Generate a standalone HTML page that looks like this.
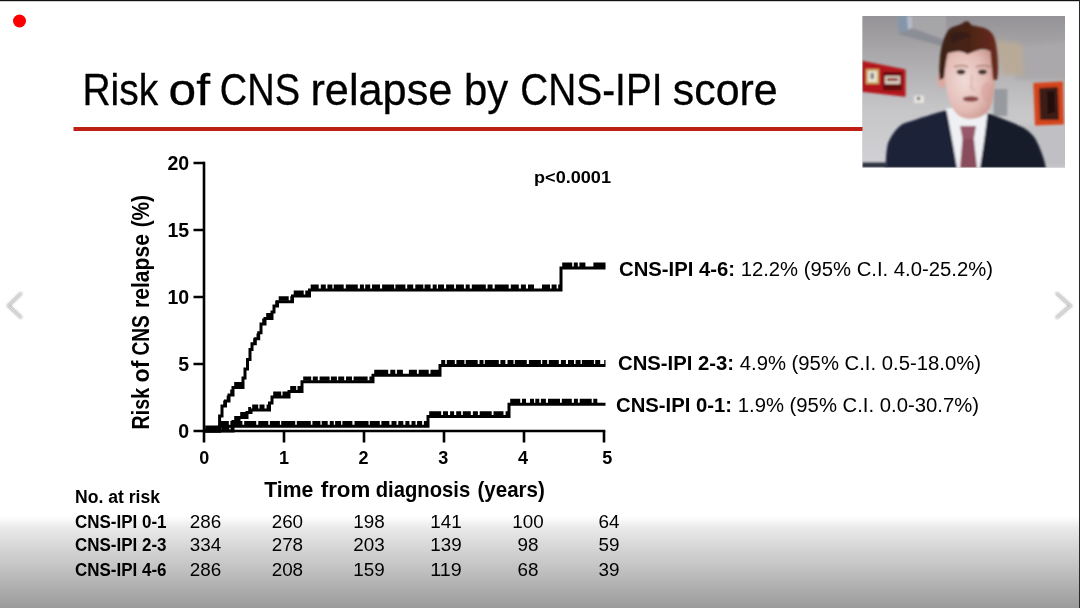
<!DOCTYPE html>
<html><head><meta charset="utf-8"><style>
html,body{margin:0;padding:0;background:#fff;width:1080px;height:608px;overflow:hidden}
svg{display:block;font-family:"Liberation Sans", sans-serif;filter:blur(0.45px)}
</style></head><body>
<svg width="1080" height="608" viewBox="0 0 1080 608">

<defs>
<clipPath id="wc"><rect x="862.5" y="16" width="202.5" height="151.5"/></clipPath>
<filter id="bl" x="-10%" y="-10%" width="120%" height="120%"><feGaussianBlur stdDeviation="1.0"/></filter>
<filter id="bl2" x="-20%" y="-20%" width="140%" height="140%"><feGaussianBlur stdDeviation="2.2"/></filter>
<filter id="bl3" x="-20%" y="-20%" width="140%" height="140%"><feGaussianBlur stdDeviation="0.9"/></filter>
<linearGradient id="wall" x1="0" y1="16" x2="0" y2="167" gradientUnits="userSpaceOnUse"><stop offset="0" stop-color="#959397"/><stop offset="0.3" stop-color="#aeacae"/><stop offset="0.62" stop-color="#c6c6c8"/><stop offset="1" stop-color="#d2d2d6"/></linearGradient>
<radialGradient id="face" cx="0.4" cy="0.45" r="0.6"><stop offset="0" stop-color="#f0dcd8"/><stop offset="0.7" stop-color="#e4bcb6"/><stop offset="1" stop-color="#cf9e96"/></radialGradient>
<linearGradient id="hair" x1="0" y1="0" x2="1" y2="0"><stop offset="0" stop-color="#3a2218"/><stop offset="0.5" stop-color="#4a2418"/><stop offset="1" stop-color="#6a2a1c"/></linearGradient>
<linearGradient id="bot" x1="0" y1="516" x2="0" y2="608" gradientUnits="userSpaceOnUse"><stop offset="0" stop-color="#000" stop-opacity="0"/><stop offset="0.13" stop-color="#000" stop-opacity="0.085"/><stop offset="0.5" stop-color="#000" stop-opacity="0.215"/><stop offset="1" stop-color="#000" stop-opacity="0.395"/></linearGradient>
</defs>
<rect x="862.5" y="16" width="202.5" height="151.5" fill="#c2c0c2"/>
<g clip-path="url(#wc)">
<g filter="url(#bl2)">
<rect x="850" y="5" width="230" height="175" fill="url(#wall)"/>
<polygon points="1020,47 1070,41 1070,80 1015,80" fill="#aaa8aa"/>
<polygon points="996,40 1022,44 1024,76 1002,74" fill="#b9aa98"/>

<polygon points="1005,125 1070,125 1070,167 1040,167" fill="#c0c0c4"/>
</g>
<g filter="url(#bl)">
<polygon points="897,16 946,16 946,45 899,34" fill="#a6a5a8"/>
<polygon points="897,16 909,16 910,31 899,34" fill="#8496a8"/><polygon points="907,16 912,16 912,30 908,31" fill="#b4bcc8"/>
<polygon points="898,34 942,46 950,42 912,28" fill="#8c8e96"/>
<polygon points="862,60.7 905.5,69.4 905.5,96.7 862,91.8" fill="#b3181b"/>
<rect x="866" y="69" width="13" height="15" fill="#c9a464"/>
<rect x="868" y="71" width="9" height="11" fill="#ece6d2"/>
<rect x="870.5" y="73" width="3.5" height="6" fill="#7a7e8a"/>
<rect x="883" y="72" width="19" height="18.5" fill="#661010"/>
<rect x="885" y="76" width="15" height="8" fill="#dccfbf"/>
<rect x="887" y="78" width="11" height="3" fill="#8a3a38"/>
<rect x="914" y="95.5" width="10" height="7.5" fill="#e6e4e0"/>
<rect x="917" y="97" width="3" height="3" fill="#555"/>
<rect x="993.7" y="89" width="13.6" height="27" fill="#979a9e"/>
<polygon points="1033.4,83 1063,81.5 1064,124.5 1035,125.5" fill="#d5441e"/>
<polygon points="1039,88 1058,87 1059,120 1040,120" fill="#3a1a14"/>
<polygon points="1047,92 1054,91 1055,112 1048,114" fill="#24100c"/>
<rect x="862" y="162.6" width="25" height="5" fill="#2a2d3c"/>
</g>
<g filter="url(#bl3)">
<polygon points="946.5,108 989,109 993,168 944,168" fill="#eff0f4"/>
<ellipse cx="941.5" cy="80" rx="4.5" ry="8.5" fill="#d9aaa2"/>
<path d="M944,50 C944,80 946,104 958,115 C966,121 978,120 987,113 C995,103 996,78 995,50 Z" fill="url(#face)"/>
<path d="M939.5,80 C939,65 940,50 943,42 C945,35 948,30 950,28.4 C956,25 962,25 964,22 C967,20 970,22 971,25 C976,26 980,27 983,27.5 C988,29 992,32 994,37 C996,42 997,50 997.5,56 C998,65 998.5,72 997,80 L993,80 C992,70 991,60 990.4,51.5 C986,49 982,49 979.7,49.7 C975,51 971,53 967.3,54.2 C963,52 960,51 956.6,51.5 C952,52 949,53 947.8,53.3 C946,60 945,70 944,78 Z" fill="url(#hair)"/>
<path d="M950,34 C958,30 966,31 972,36 C966,38 958,40 952,44 Z" fill="#2e1a12" opacity="0.6"/>
<ellipse cx="961" cy="72" rx="4.3" ry="2.4" fill="#3a2a2a"/>
<ellipse cx="982.5" cy="72" rx="4.3" ry="2.4" fill="#3a2a2a"/>
<path d="M954,67 Q961,64 968,67" stroke="#a2746a" stroke-width="1.4" fill="none"/>
<path d="M976,67 Q983,64 990,67" stroke="#a2746a" stroke-width="1.4" fill="none"/>
<path d="M972,75 L971,88 L975,90" stroke="#d4a49c" stroke-width="1.6" fill="none" opacity="0.7"/>
<ellipse cx="970.7" cy="99" rx="8" ry="2.8" fill="#8a4646"/>
<ellipse cx="987" cy="92" rx="6" ry="10" fill="#d49e96" opacity="0.5"/>
<path d="M885.6,168 C886,155 886.5,150 888,143 C893,132 899,125.3 905,123 C920,118 935,113 946.5,110.4 C950,128 954,150 957,168 Z" fill="#1b2038"/>
<path d="M987.5,113 C1000,118 1012,122 1023.5,127.8 C1030,132 1034,136 1036,140 C1040,148 1044,158 1046,168 L980,168 C983,150 986,128 987.5,113 Z" fill="#161a2a"/>
<polygon points="962.6,138 973.8,138 977,168 960,168" fill="#8a4c5c"/>
<polygon points="960,126 976,126 973.8,139 962.6,139" fill="#96586a"/>
</g>
</g>

<rect x="0" y="0" width="1080" height="608" fill="#fff" opacity="0"/>
<circle cx="19.5" cy="21" r="6.5" fill="#fa0000"/>
<text x="82.45" y="105.4" font-size="45" font-weight="400" textLength="75.85" lengthAdjust="spacingAndGlyphs" stroke="#000" stroke-width="0.3">Risk</text><text x="168.59" y="105.4" font-size="45" font-weight="400" textLength="41.44" lengthAdjust="spacingAndGlyphs" stroke="#000" stroke-width="0.3">of</text><text x="219.80" y="105.4" font-size="45" font-weight="400" textLength="80.20" lengthAdjust="spacingAndGlyphs" stroke="#000" stroke-width="0.3">CNS</text><text x="310.41" y="105.4" font-size="45" font-weight="400" textLength="142.00" lengthAdjust="spacingAndGlyphs" stroke="#000" stroke-width="0.3">relapse</text><text x="463.91" y="105.4" font-size="45" font-weight="400" textLength="44.15" lengthAdjust="spacingAndGlyphs" stroke="#000" stroke-width="0.3">by</text><text x="520.26" y="105.4" font-size="45" font-weight="400" textLength="142.32" lengthAdjust="spacingAndGlyphs" stroke="#000" stroke-width="0.3">CNS-IPI</text><text x="672.81" y="105.4" font-size="45" font-weight="400" textLength="104.94" lengthAdjust="spacingAndGlyphs" stroke="#000" stroke-width="0.3">score</text>
<rect x="73.5" y="127" width="789" height="4" fill="#bd2115"/>
<path d="M204,161.7V431H605.3" fill="none" stroke="#000" stroke-width="2.6"/><path d="M193.5,163H204M193.5,230H204M193.5,297H204M193.5,364H204M193.5,431H204M204,431V442.5M284,431V442.5M364,431V442.5M444,431V442.5M524,431V442.5M604,431V442.5" fill="none" stroke="#000" stroke-width="2.6"/>
<path d="M204.0,431.0H219.6V416.0H222.0V406.0H225.5V401.0H229.0V395.0H233.0V387.4H243.0V378.0H245.0V369.0H247.5V359.5H250.0V349.6H252.0V343.7H255.3V338.8H258.7V332.8H261.0V324.0H265.0V318.5H272.0V312.0H274.0V306.0H277.5V301.7H292.5V296.0H309.5V290.0H561.0V268.0H605.5" fill="none" stroke="#000" stroke-width="3.0" stroke-linejoin="miter"/><path d="M204.0,431.0H233.0V421.5H239.0V417.5H247.0V412.5H251.0V410.0H269.5V403.0H272.0V397.0H289.0V391.5H302.0V381.8H373.0V375.2H440.0V365.5H605.5" fill="none" stroke="#000" stroke-width="3.0" stroke-linejoin="miter"/><path d="M204.0,431.0H219.6V426.3H428.0V416.6H509.0V404.2H605.5" fill="none" stroke="#000" stroke-width="3.0" stroke-linejoin="miter"/><path d="M205.2,427.8H211.2M212.8,427.8H216.8M218.1,427.8H219.6M223.2,402.8H225.5M226.7,397.8H229.0M230.2,391.8H233.0M234.2,384.2H243.0M253.2,340.5H255.3M256.5,335.6H258.7M262.2,320.8H265.0M266.2,315.3H271.2M275.2,302.8H277.5M278.7,298.5H288.7M290.3,298.5H292.5M293.7,292.8H303.7M305.3,292.8H309.5M310.7,286.8H318.7M320.8,286.8H325.8M327.4,286.8H332.4M333.7,286.8H343.7M345.8,286.8H357.8M359.9,286.8H363.9M365.2,286.8H370.2M372.0,286.8H380.0M382.1,286.8H394.1M395.4,286.8H405.4M407.2,286.8H413.2M415.3,286.8H423.3M424.6,286.8H430.6M432.7,286.8H436.7M438.0,286.8H444.0M446.1,286.8H454.1M455.9,286.8H463.9M465.7,286.8H469.7M471.8,286.8H485.8M487.6,286.8H492.6M494.7,286.8H508.7M510.8,286.8H518.8M520.9,286.8H525.9M528.0,286.8H534.0M542.0,286.8H550.0M551.6,286.8H556.6M558.2,286.8H561.0M562.2,264.8H572.2M573.8,264.8H577.8M579.4,264.8H585.4M593.4,264.8H605.5M205.2,427.8H219.2M221.3,427.8H229.3M230.6,427.8H233.0M234.2,418.3H239.0M240.2,414.3H246.2M248.2,409.3H251.0M252.2,406.8H258.2M259.5,406.8H264.5M266.6,406.8H269.5M273.2,393.8H281.2M282.5,393.8H289.0M290.2,388.3H296.2M297.5,388.3H302.0M303.2,378.6H311.2M312.8,378.6H317.8M319.6,378.6H329.6M330.9,378.6H336.9M338.2,378.6H344.2M346.0,378.6H352.0M353.6,378.6H367.6M369.4,378.6H373.0M374.2,372.0H388.2M390.3,372.0H395.3M396.9,372.0H402.9M408.9,372.0H416.9M418.7,372.0H428.7M430.5,372.0H440.0M441.2,362.3H445.2M446.8,362.3H454.8M456.4,362.3H464.4M465.7,362.3H477.7M479.5,362.3H483.5M484.8,362.3H498.8M500.4,362.3H505.4M507.5,362.3H513.5M514.8,362.3H526.8M528.9,362.3H540.9M542.2,362.3H547.2M548.8,362.3H558.8M560.9,362.3H565.9M568.0,362.3H574.0M575.6,362.3H580.6M581.9,362.3H593.9M595.2,362.3H600.2M604.2,362.3H605.5M205.2,427.8H210.2M212.0,427.8H219.6M220.8,423.1H228.8M230.4,423.1H242.4M244.2,423.1H256.2M258.3,423.1H268.3M269.9,423.1H279.9M281.2,423.1H295.2M296.8,423.1H310.8M312.4,423.1H320.4M321.7,423.1H327.7M329.8,423.1H333.8M335.1,423.1H341.1M342.4,423.1H352.4M354.5,423.1H368.5M369.8,423.1H379.8M381.4,423.1H389.4M391.5,423.1H396.5M398.3,423.1H403.3M405.4,423.1H409.4M411.5,423.1H415.5M417.1,423.1H422.1M423.9,423.1H428.0M429.2,413.4H441.2M443.0,413.4H448.0M450.1,413.4H454.1M456.2,413.4H461.2M462.8,413.4H470.8M472.9,413.4H477.9M479.7,413.4H491.7M493.5,413.4H503.5M505.6,413.4H509.0M510.2,401.0H520.2M522.0,401.0H526.0M530.0,401.0H534.0M535.3,401.0H539.3M540.9,401.0H545.9M548.0,401.0H560.0M561.8,401.0H571.8M573.9,401.0H577.9M579.7,401.0H591.7M593.3,401.0H597.3" fill="none" stroke="#000" stroke-width="4.4"/>
<text x="189.2" y="170" text-anchor="end" font-weight="700" font-size="19.5">20</text><text x="189.2" y="237" text-anchor="end" font-weight="700" font-size="19.5">15</text><text x="189.2" y="304" text-anchor="end" font-weight="700" font-size="19.5">10</text><text x="189.2" y="371" text-anchor="end" font-weight="700" font-size="19.5">5</text><text x="189.2" y="438" text-anchor="end" font-weight="700" font-size="19.5">0</text>
<text x="204.2" y="464" text-anchor="middle" font-weight="700" font-size="18">0</text><text x="284" y="464" text-anchor="middle" font-weight="700" font-size="18">1</text><text x="363.5" y="464" text-anchor="middle" font-weight="700" font-size="18">2</text><text x="443.3" y="464" text-anchor="middle" font-weight="700" font-size="18">3</text><text x="523" y="464" text-anchor="middle" font-weight="700" font-size="18">4</text><text x="607.3" y="464" text-anchor="middle" font-weight="700" font-size="18">5</text>

<text x="619" y="276" font-size="19.5" textLength="374" lengthAdjust="spacingAndGlyphs"><tspan font-weight="700">CNS-IPI 4-6:</tspan> 12.2% (95% C.I. 4.0-25.2%)</text>
<text x="618" y="369.5" font-size="19.5" textLength="363" lengthAdjust="spacingAndGlyphs"><tspan font-weight="700">CNS-IPI 2-3:</tspan> 4.9% (95% C.I. 0.5-18.0%)</text>
<text x="616" y="412.2" font-size="19.5" textLength="363" lengthAdjust="spacingAndGlyphs"><tspan font-weight="700">CNS-IPI 0-1:</tspan> 1.9% (95% C.I. 0.0-30.7%)</text>
<text x="534" y="182.9" font-size="17" font-weight="700" textLength="77" lengthAdjust="spacingAndGlyphs">p&lt;0.0001</text>

<text transform="translate(149.3,429.47) rotate(-90)" font-size="23.3" font-weight="700" textLength="41.54" lengthAdjust="spacingAndGlyphs">Risk</text><text transform="translate(149.3,382.50) rotate(-90)" font-size="23.3" font-weight="700" textLength="22.00" lengthAdjust="spacingAndGlyphs">of</text><text transform="translate(149.3,355.52) rotate(-90)" font-size="23.3" font-weight="700" textLength="40.39" lengthAdjust="spacingAndGlyphs">CNS</text><text transform="translate(149.3,307.96) rotate(-90)" font-size="23.3" font-weight="700" textLength="73.83" lengthAdjust="spacingAndGlyphs">relapse</text><text transform="translate(149.3,227.31) rotate(-90)" font-size="23.3" font-weight="700" textLength="32.32" lengthAdjust="spacingAndGlyphs">(%)</text>
<text x="264.25" y="496.8" font-size="21.4" font-weight="700" textLength="49.04" lengthAdjust="spacingAndGlyphs">Time</text><text x="320.74" y="496.8" font-size="21.4" font-weight="700" textLength="49.61" lengthAdjust="spacingAndGlyphs">from</text><text x="375.75" y="496.8" font-size="21.4" font-weight="700" textLength="94.44" lengthAdjust="spacingAndGlyphs">diagnosis</text><text x="477.54" y="496.8" font-size="21.4" font-weight="700" textLength="67.33" lengthAdjust="spacingAndGlyphs">(years)</text>
<text x="75" y="503.1" font-size="17.6" font-weight="700" textLength="85" lengthAdjust="spacingAndGlyphs">No. at risk</text><text x="75" y="527.5" font-size="17.6" font-weight="700" textLength="91.5" lengthAdjust="spacingAndGlyphs">CNS-IPI 0-1</text><text x="205.5" y="527.5" font-size="18.5" text-anchor="middle" textLength="31.46" lengthAdjust="spacingAndGlyphs">286</text><text x="287.4" y="527.5" font-size="18.5" text-anchor="middle" textLength="31.46" lengthAdjust="spacingAndGlyphs">260</text><text x="369" y="527.5" font-size="18.5" text-anchor="middle" textLength="31.46" lengthAdjust="spacingAndGlyphs">198</text><text x="446" y="527.5" font-size="18.5" text-anchor="middle" textLength="31.46" lengthAdjust="spacingAndGlyphs">141</text><text x="528" y="527.5" font-size="18.5" text-anchor="middle" textLength="31.46" lengthAdjust="spacingAndGlyphs">100</text><text x="609" y="527.5" font-size="18.5" text-anchor="middle" textLength="20.97" lengthAdjust="spacingAndGlyphs">64</text><text x="75" y="551.4" font-size="17.6" font-weight="700" textLength="91.5" lengthAdjust="spacingAndGlyphs">CNS-IPI 2-3</text><text x="205.5" y="551.4" font-size="18.5" text-anchor="middle" textLength="31.46" lengthAdjust="spacingAndGlyphs">334</text><text x="287.4" y="551.4" font-size="18.5" text-anchor="middle" textLength="31.46" lengthAdjust="spacingAndGlyphs">278</text><text x="369" y="551.4" font-size="18.5" text-anchor="middle" textLength="31.46" lengthAdjust="spacingAndGlyphs">203</text><text x="446" y="551.4" font-size="18.5" text-anchor="middle" textLength="31.46" lengthAdjust="spacingAndGlyphs">139</text><text x="528" y="551.4" font-size="18.5" text-anchor="middle" textLength="20.97" lengthAdjust="spacingAndGlyphs">98</text><text x="609" y="551.4" font-size="18.5" text-anchor="middle" textLength="20.97" lengthAdjust="spacingAndGlyphs">59</text><text x="75" y="575.5" font-size="17.6" font-weight="700" textLength="91.5" lengthAdjust="spacingAndGlyphs">CNS-IPI 4-6</text><text x="205.5" y="575.5" font-size="18.5" text-anchor="middle" textLength="31.46" lengthAdjust="spacingAndGlyphs">286</text><text x="287.4" y="575.5" font-size="18.5" text-anchor="middle" textLength="31.46" lengthAdjust="spacingAndGlyphs">208</text><text x="369" y="575.5" font-size="18.5" text-anchor="middle" textLength="31.46" lengthAdjust="spacingAndGlyphs">159</text><text x="446" y="575.5" font-size="18.5" text-anchor="middle" textLength="31.46" lengthAdjust="spacingAndGlyphs">119</text><text x="528" y="575.5" font-size="18.5" text-anchor="middle" textLength="20.97" lengthAdjust="spacingAndGlyphs">68</text><text x="609" y="575.5" font-size="18.5" text-anchor="middle" textLength="20.97" lengthAdjust="spacingAndGlyphs">39</text>
<g filter="url(#bl)" fill="none" stroke-linecap="round"><path d="M20.7,293.6 L8.5,305.7 L20.7,317.2" stroke="#b8b8b8" stroke-width="3.2"/><path d="M1057,293.6 L1070.5,305.7 L1057,317.2" stroke="#b8b8b8" stroke-width="3.2"/></g>
<g fill="none" stroke-linecap="round" opacity="0.8"><path d="M20.7,293.6 L8.5,305.7 L20.7,317.2" stroke="#eee" stroke-width="1"/><path d="M1057,293.6 L1070.5,305.7 L1057,317.2" stroke="#eee" stroke-width="1"/></g>
<rect x="0" y="516" width="1080" height="92" fill="url(#bot)"/>
<rect x="0" y="0" width="1080" height="1.2" fill="#111"/>
<rect x="1079" y="0" width="1" height="608" fill="#2a2a2a"/>
</svg>
</body></html>
